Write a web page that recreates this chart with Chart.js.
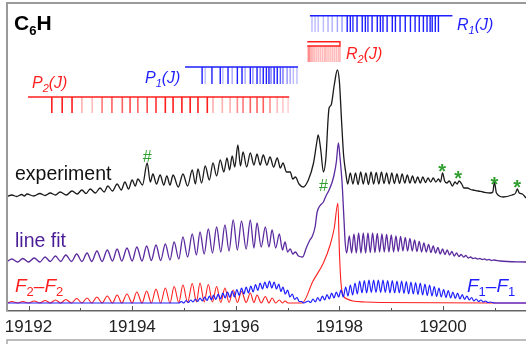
<!DOCTYPE html>
<html><head><meta charset="utf-8">
<script src="https://cdn.jsdelivr.net/npm/chart.js@4/dist/chart.umd.min.js"></script>
<style>html,body{margin:0;padding:0;background:#fff;}#wrap{width:526px;height:344px;position:relative;}</style>
</head><body><div id="wrap"><canvas id="c" width="526" height="344"></canvas></div>
<script>
// ---------------- DATA (wavenumber in cm-1, intensity in arbitrary units above each trace's baseline) ----------------
const xTickLabels = [19192, 19194, 19196, 19198, 19200];
const xTickValues = [19192, 19193, 19194, 19195, 19196, 19197, 19198, 19199, 19200, 19201];

const experiment = [[19191.585,3.5],[19191.68,5],[19191.77,3.5],[19191.87,5.5],[19191.92,4],[19191.97,6],[19192.10,4],[19192.22,6.5],[19192.32,4.5],[19192.42,7],[19192.52,5],[19192.61,8],[19192.73,5],[19192.84,9],[19192.94,6],[19193.03,10],[19193.11,6.5],[19193.19,11],[19193.29,7],[19193.38,12],[19193.46,8],[19193.53,14],[19193.62,9],[19193.71,16],[19193.79,10],[19193.86,18],[19193.93,11],[19194.00,20],[19194.06,14],[19194.11,21],[19194.20,15],[19194.29,37],[19194.35,18],[19194.40,26],[19194.47,16],[19194.54,25],[19194.61,15],[19194.67,24],[19194.73,15],[19194.79,25],[19194.89,13],[19194.98,26],[19195.07,14],[19195.16,30],[19195.22,16],[19195.27,31],[19195.34,17],[19195.41,34],[19195.49,20],[19195.56,37],[19195.63,24],[19195.70,40],[19195.77,28],[19195.83,42],[19195.88,30],[19195.93,44],[19195.98,33],[19196.04,55],[19196.09,34],[19196.14,48],[19196.21,33],[19196.28,47],[19196.35,35],[19196.41,46],[19196.47,35],[19196.53,45],[19196.60,35],[19196.66,43],[19196.73,33],[19196.80,42],[19196.86,32],[19196.91,37],[19196.98,28],[19197.05,28],[19197.10,21],[19197.15,23],[19197.22,16],[19197.30,13],[19197.40,20],[19197.50,37],[19197.57,60],[19197.59,65],[19197.64,50],[19197.69,28],[19197.74,43],[19197.78,80],[19197.80,92],[19197.84,95],[19197.90,115],[19197.96,130],[19198.00,118],[19198.04,80],[19198.08,45],[19198.12,28],[19198.16,16],[19198.21,27],[19198.26,16],[19198.31,27],[19198.36,15.5],[19198.41,28],[19198.46,16],[19198.51,27],[19198.56,15.5],[19198.61,28],[19198.66,16],[19198.71,27.5],[19198.76,16],[19198.81,28],[19198.86,16.5],[19198.91,27],[19198.96,16],[19199.01,27],[19199.06,16.5],[19199.11,26],[19199.16,16.5],[19199.21,26],[19199.26,17],[19199.31,25],[19199.36,17],[19199.41,24],[19199.46,17],[19199.51,23],[19199.56,17],[19199.61,23],[19199.66,17.5],[19199.71,22],[19199.76,18],[19199.81,22],[19199.86,18],[19199.91,21],[19199.95,18],[19199.99,27],[19200.03,19],[19200.07,17],[19200.12,19],[19200.18,14],[19200.23,18],[19200.27,16],[19200.31,19],[19200.36,16],[19200.40,12],[19200.47,12],[19200.53,10.5],[19200.58,10],[19200.68,9],[19200.77,8],[19200.91,7],[19200.96,8],[19200.99,18],[19201.03,7],[19201.16,3],[19201.33,5],[19201.40,7],[19201.43,11],[19201.47,7],[19201.53,6],[19201.6,2]];

const lineFit = [[19191.585,0.5],[19191.68,3],[19191.79,0],[19191.89,3.5],[19192.00,0],[19192.11,4],[19192.22,0],[19192.32,5],[19192.42,0.5],[19192.52,6],[19192.62,0.5],[19192.72,7],[19192.83,0.5],[19192.93,8],[19193.03,0.5],[19193.13,9],[19193.22,0.5],[19193.32,11],[19193.42,0.5],[19193.52,12],[19193.62,1],[19193.71,13],[19193.80,1],[19193.90,14],[19194.00,1],[19194.09,15],[19194.19,1],[19194.28,16],[19194.37,1.5],[19194.46,17],[19194.55,1.5],[19194.64,18],[19194.73,2],[19194.81,20],[19194.90,3],[19194.98,25],[19195.07,5],[19195.16,28],[19195.24,7],[19195.31,30],[19195.39,8],[19195.47,33],[19195.55,9],[19195.63,35],[19195.71,10],[19195.79,37],[19195.87,11],[19195.95,42],[19196.03,12],[19196.11,41],[19196.20,13],[19196.28,42],[19196.35,14],[19196.41,39],[19196.49,15],[19196.57,35],[19196.64,15],[19196.70,32],[19196.77,14],[19196.84,28],[19196.90,12],[19196.95,20],[19197.00,10],[19197.05,13],[19197.10,8],[19197.15,10],[19197.21,6],[19197.29,5],[19197.36,14],[19197.43,22],[19197.47,25],[19197.53,35],[19197.57,50],[19197.62,56],[19197.69,60],[19197.74,66],[19197.80,72],[19197.86,80],[19197.90,88],[19197.94,100],[19197.98,119],[19198.01,105],[19198.05,80],[19198.09,40],[19198.11,20],[19198.14,9],[19198.19,26],[19198.235,9],[19198.28,28],[19198.325,9],[19198.37,29],[19198.415,9],[19198.46,29],[19198.505,9],[19198.55,29],[19198.595,9.5],[19198.64,29],[19198.685,9.5],[19198.73,28.5],[19198.775,10],[19198.82,28],[19198.865,10],[19198.91,27.5],[19198.955,10],[19199.00,27],[19199.045,10],[19199.09,26],[19199.135,10.5],[19199.18,25.5],[19199.225,11],[19199.27,24.5],[19199.315,11],[19199.36,23.5],[19199.405,11],[19199.45,22],[19199.495,10.5],[19199.54,20.5],[19199.585,10],[19199.63,19],[19199.675,10],[19199.72,17.5],[19199.765,9.5],[19199.81,16],[19199.855,9],[19199.90,14.5],[19199.945,8],[19199.99,13],[19200.035,7.5],[19200.08,12],[19200.125,7],[19200.17,10.5],[19200.215,6],[19200.26,9],[19200.305,5.5],[19200.35,7.5],[19200.395,5],[19200.44,6.5],[19200.485,4],[19200.53,5],[19200.575,3.5],[19200.62,4],[19200.665,3],[19200.71,3.5],[19200.755,2.5],[19200.80,3],[19200.845,2],[19200.89,2.5],[19200.935,1.5],[19200.98,2],[19201.1,1],[19201.6,0]];

const f2f2 = [[19191.585,0],[19191.68,1.5],[19191.79,0],[19191.89,1.5],[19192.00,0],[19192.11,2],[19192.22,0],[19192.32,2.5],[19192.42,0],[19192.52,3],[19192.62,0],[19192.72,3.5],[19192.83,0],[19192.93,4.5],[19193.03,0],[19193.13,5],[19193.22,0],[19193.32,6],[19193.42,0],[19193.52,7],[19193.62,0],[19193.71,8],[19193.80,0],[19193.90,9],[19194.00,0],[19194.09,11],[19194.19,0],[19194.28,12],[19194.37,0],[19194.46,14],[19194.55,0],[19194.64,15],[19194.73,0],[19194.81,16.5],[19194.90,0.5],[19194.98,18],[19195.07,0.5],[19195.16,19.5],[19195.24,1],[19195.31,20],[19195.39,1],[19195.47,18.5],[19195.55,1],[19195.63,16.5],[19195.71,0.5],[19195.79,15],[19195.87,0.5],[19195.95,13],[19196.03,0.5],[19196.11,11.5],[19196.20,0.5],[19196.28,10],[19196.35,0.5],[19196.41,8],[19196.49,0],[19196.57,6.5],[19196.64,0],[19196.70,5],[19196.77,0],[19196.84,3],[19196.90,0],[19196.95,2],[19197.01,0],[19197.28,0],[19197.49,22],[19197.69,40],[19197.82,58],[19197.90,75],[19197.97,100],[19198.00,50],[19198.03,20],[19198.07,8],[19198.15,4],[19198.26,2],[19198.50,1],[19198.79,0.5],[19201.6,0]];

const f1f1 = [[19191.585,0],[19194.90,0],[19194.95,1.5],[19194.995,0],[19195.04,2.5],[19195.085,0.5],[19195.13,3],[19195.175,1],[19195.22,4],[19195.265,1.5],[19195.31,5],[19195.355,2],[19195.40,6],[19195.445,2.5],[19195.49,7],[19195.53,3],[19195.57,8],[19195.615,3.5],[19195.66,9],[19195.705,4],[19195.75,10],[19195.795,5],[19195.84,11],[19195.885,5.5],[19195.93,12],[19195.975,6],[19196.02,13.5],[19196.065,7.5],[19196.11,15],[19196.155,9],[19196.20,16],[19196.245,10],[19196.29,17],[19196.335,11],[19196.38,18.5],[19196.425,12.5],[19196.47,20],[19196.515,14],[19196.56,21],[19196.605,15],[19196.65,22],[19196.695,15],[19196.74,21],[19196.785,14],[19196.83,19],[19196.87,11.5],[19196.91,16],[19196.955,9],[19197.00,13],[19197.045,6],[19197.09,9],[19197.135,3.5],[19197.18,5.5],[19197.225,1.5],[19197.27,1.5],[19197.31,0],[19197.40,2],[19197.445,0.5],[19197.49,4],[19197.535,1],[19197.58,5.5],[19197.625,2],[19197.67,7],[19197.715,3],[19197.76,8.5],[19197.805,4],[19197.85,10],[19197.895,5],[19197.94,11],[19197.985,6],[19198.03,13],[19198.075,6],[19198.12,16],[19198.165,7],[19198.21,18],[19198.255,8],[19198.30,20],[19198.345,9],[19198.39,22],[19198.435,10],[19198.48,22.5],[19198.525,10],[19198.57,23],[19198.615,10.5],[19198.66,23],[19198.705,10.5],[19198.75,23],[19198.795,10.5],[19198.84,23],[19198.885,10.5],[19198.93,22.5],[19198.975,10],[19199.02,22.5],[19199.065,10],[19199.11,22],[19199.155,10],[19199.20,22],[19199.245,9.5],[19199.29,21.5],[19199.335,9],[19199.38,21],[19199.425,9],[19199.47,20.5],[19199.515,8.5],[19199.56,20],[19199.605,8],[19199.65,19],[19199.695,7.5],[19199.74,18],[19199.785,7],[19199.83,16.5],[19199.875,6.5],[19199.92,15],[19199.965,6],[19200.01,13.5],[19200.055,5.5],[19200.10,12.5],[19200.145,5],[19200.19,11],[19200.235,4.5],[19200.28,10],[19200.325,4],[19200.37,8.5],[19200.415,3.5],[19200.46,7],[19200.505,3],[19200.55,5.5],[19200.595,2],[19200.64,4],[19200.685,1.5],[19200.73,3],[19200.775,1],[19200.82,2],[19200.865,0.5],[19200.91,1],[19201.0,0],[19201.6,0]];

// assigned line positions (stick spectra) and their relative strength (drawn as opacity)
const p2Lines = [19192.45,19192.65,19192.84,19193.03,19193.23,19193.42,19193.61,19193.81,19193.96,19194.11,19194.29,19194.46,19194.64,19194.79,19194.96,19195.12,19195.27,19195.45,19195.56,19195.74,19195.89,19196.03,19196.14,19196.28,19196.41,19196.53,19196.66,19196.80,19196.91,19197.01];
const p2Strength = [1,1,1,0.35,0.3,0.6,0.7,0.7,0.8,0.7,0.8,0.9,1,1,1,1,1,1,0.35,0.35,0.35,0.5,0.6,0.7,0.7,0.7,0.5,0.3,0.25,0.2];
const p1Lines = [19195.35,19195.41,19195.54,19195.70,19195.75,19195.85,19195.93,19196.03,19196.12,19196.18,19196.28,19196.33,19196.41,19196.47,19196.53,19196.59,19196.64,19196.68,19196.74,19196.80,19196.86,19196.91,19196.99,19197.05,19197.11,19197.18];
const p1Strength = [1,0.3,1,1,0.3,1,0.4,1,1,0.4,1,0.5,1,0.6,1,1,1,0.6,1,1,0.7,0.6,0.5,0.4,0.3,0.3];
const r1Lines = [19197.47,19197.53,19197.59,19197.69,19197.78,19197.86,19197.96,19198.05,19198.15,19198.21,19198.26,19198.34,19198.44,19198.50,19198.55,19198.63,19198.73,19198.79,19198.84,19198.92,19199.02,19199.08,19199.17,19199.27,19199.37,19199.46,19199.54,19199.62,19199.69,19199.75,19199.79,19199.85,19199.91];
const r1Strength = [0.3,0.3,0.3,0.3,0.35,0.35,0.4,0.45,1,1,0.9,1,1,1,0.9,1,1,1,1,1,1,1,1,1,1,1,1,1,1,1,1,1,1];
const r2Lines = [19197.40,19197.43,19197.47,19197.51,19197.55,19197.59,19197.63,19197.67,19197.71,19197.74,19197.78,19197.82,19197.86,19197.90,19197.94,19197.98,19198.01];
const r2Strength = [0.5,0.5,0.4,0.35,0.3,0.3,0.3,0.3,0.3,0.3,0.3,0.3,0.3,0.3,0.3,0.3,0.3];
const r2HeadStart = 19197.38, r2HeadEnd = 19198.01;
const combSpans = { p2: [19191.99, 19197.03], p1: [19195.02, 19197.20], r1: [19197.43, 19200.18] };
const hashMarks = [19194.29, 19197.69];
const starMarks = [19199.98, 19200.29, 19200.99, 19201.43];

// ---------------- LAYOUT / STYLE ----------------
const X_MIN = 19191.585, X_MAX = 19201.6;
const EXP_BASE = 111, FIT_BASE = 49, F_BASE = 8;
const FONT = '"Liberation Sans", Arial, Helvetica, sans-serif';
const RED = '255,30,30', BLUE = '30,30,255';
const PURPLE = '#5a2a9e', GREEN = '#2f9e2f';

function trace(pairs, base){ return pairs.map(p => ({x:p[0], y:base + p[1]})); }
function lineDs(pairs, base, color, w){
  return {data: trace(pairs, base), borderColor: color, borderWidth: w, pointRadius: 0,
          cubicInterpolationMode: 'monotone', fill: false};
}
function combDs(lines, strength, top, bottom, rgb, w){
  const data = [];
  lines.forEach(v => { data.push({x:v,y:top},{x:v,y:bottom},{x:v,y:null}); });
  return {data, borderWidth: w, pointRadius: 0, tension: 0, spanGaps: false, borderColor: `rgb(${rgb})`,
    segment: {borderColor: ctx => `rgba(${rgb},${strength[Math.floor(ctx.p0DataIndex/3)]})`}};
}
function barDs(span, y, rgb, w){
  return {data: [{x:span[0],y},{x:span[1],y}], borderColor:`rgb(${rgb})`, borderWidth:w, pointRadius:0, tension:0};
}

const datasets = [
  lineDs(f1f1, F_BASE, `rgb(${BLUE})`, 1.2),
  lineDs(f2f2, F_BASE, `rgb(${RED})`, 1.1),
  lineDs(lineFit, FIT_BASE, PURPLE, 1.3),
  lineDs(experiment, EXP_BASE, '#1a1a1a', 1.3),
  barDs(combSpans.p2, 214, RED, 1.6),
  combDs(p2Lines, p2Strength, 214, 198, RED, 1.6),
  barDs(combSpans.p1, 244, BLUE, 1.6),
  combDs(p1Lines, p1Strength, 244, 227, BLUE, 1.4),
  barDs(combSpans.r1, 295.3, BLUE, 1.6),
  combDs(r1Lines, r1Strength, 295, 279, BLUE, 1.4),
  {data:[{x:r2HeadStart,y:269.3},{x:r2HeadEnd,y:269.3},{x:r2HeadEnd,y:265},{x:r2HeadStart,y:265}],
   borderColor:`rgb(${RED})`, borderWidth:1.4, pointRadius:0, tension:0},
  combDs(r2Lines, r2Strength, 265, 249, RED, 1.6)
];

function rich(ctx, x, y, parts, color){
  ctx.fillStyle = color; ctx.textBaseline = 'alphabetic'; ctx.textAlign = 'left';
  for (const [t, size, dy, style] of parts){
    ctx.font = `${style||''} ${size}px ${FONT}`;
    ctx.fillText(t, x, y + dy);
    x += ctx.measureText(t).width;
  }
}

const decor = {
  id: 'decor',
  afterDraw(chart){
    const ctx = chart.ctx, a = chart.chartArea, xs = chart.scales.x;
    ctx.save();
    ctx.strokeStyle = '#9a9a9a'; ctx.lineWidth = 2;
    ctx.beginPath(); ctx.moveTo(a.left, a.bottom); ctx.lineTo(a.left, a.top); ctx.lineTo(a.right, a.top); ctx.stroke();
    ctx.strokeStyle = '#a8a8a8'; ctx.lineWidth = 1.5;
    ctx.beginPath(); ctx.moveTo(a.left, 344); ctx.lineTo(a.left, 340); ctx.lineTo(a.right, 340); ctx.stroke();
    ctx.strokeStyle = '#555'; ctx.lineWidth = 1;
    xTickValues.forEach(v => {
      const px = Math.round(xs.getPixelForValue(v)) + 0.5;
      const len = xTickLabels.includes(v) ? 5 : 3;
      ctx.beginPath(); ctx.moveTo(px, a.bottom); ctx.lineTo(px, a.bottom - len); ctx.stroke();
    });
    rich(ctx, 14, 30, [['C',21,0,'bold'],['6',13,5,'bold'],['H',21,0,'bold']], '#000');
    rich(ctx, 32, 88, [['P',16,0,'italic'],['2',11,4,'italic'],['(J)',16,0,'italic']], `rgb(${RED})`);
    rich(ctx, 145, 83, [['P',16,0,'italic'],['1',11,4,'italic'],['(J)',16,0,'italic']], `rgb(${BLUE})`);
    rich(ctx, 457, 30, [['R',16,0,'italic'],['1',11,4,'italic'],['(J)',16,0,'italic']], `rgb(${BLUE})`);
    rich(ctx, 346, 59, [['R',16,0,'italic'],['2',11,4,'italic'],['(J)',16,0,'italic']], `rgb(${RED})`);
    rich(ctx, 15, 180, [['experiment',19.5,0,'']], '#111');
    rich(ctx, 15, 247, [['line fit',19.5,0,'']], '#4a1d96');
    rich(ctx, 15, 292, [['F',19,0,'italic'],['2',13,4,''],['\u2013',19,0,''],['F',19,0,'italic'],['2',13,4,'']], `rgb(${RED})`);
    rich(ctx, 467, 292, [['F',19,0,'italic'],['1',13,4,''],['\u2013',19,0,''],['F',19,0,'italic'],['1',13,4,'']], `rgb(${BLUE})`);
    ctx.fillStyle = GREEN; ctx.textAlign = 'center'; ctx.textBaseline = 'alphabetic';
    ctx.font = `16px ${FONT}`;
    ctx.fillText('#', xs.getPixelForValue(hashMarks[0]), 162);
    ctx.fillText('#', xs.getPixelForValue(hashMarks[1]), 191);
    ctx.font = `bold 20px ${FONT}`;
    [169, 176, 182, 185].forEach((cy, i) => {
      ctx.fillText('*', xs.getPixelForValue(starMarks[i]), cy + 9);
    });
    ctx.restore();
  }
};

new Chart(document.getElementById('c'), {
  type: 'line',
  data: { datasets },
  options: {
    responsive: false, animation: false, events: [],
    layout: { padding: { left: 7, top: 3, right: 0, bottom: 0 } },
    plugins: { legend: { display: false }, tooltip: { enabled: false } },
    scales: {
      x: { type: 'linear', min: X_MIN, max: X_MAX,
           grid: { display: false, drawTicks: false },
           border: { display: true, color: '#666', width: 1.5 },
           afterBuildTicks: s => { s.ticks = xTickValues.map(v => ({value: v})); },
           ticks: { autoSkip: false, maxRotation: 0, padding: 6, color: '#222',
                    font: { size: 17, family: FONT },
                    callback: v => xTickLabels.includes(v) ? String(v) : '' },
           afterFit: s => { s.paddingLeft = 0; s.paddingRight = 0; s.height = 33; } },
      y: { display: false, min: 0, max: 308 }
    }
  },
  plugins: [decor]
});
</script></body></html>
